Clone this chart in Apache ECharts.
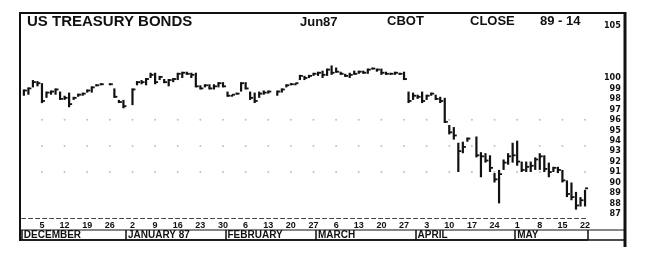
<!DOCTYPE html>
<html><head><meta charset="utf-8">
<script src="https://cdn.jsdelivr.net/npm/echarts@6/dist/echarts.min.js"></script>
<style>html,body{margin:0;padding:0;background:#fff}#c{width:645px;height:258px}</style>
</head><body><div id="c"></div>
<script>
// Trading weekdays, Dec 1 1986 - May 22 1987
const days = [
 '12/01','12/02','12/03','12/04','12/05','12/08','12/09','12/10','12/11','12/12',
 '12/15','12/16','12/17','12/18','12/19','12/22','12/23','12/24','12/25','12/26',
 '12/29','12/30','12/31','01/01','01/02','01/05','01/06','01/07','01/08','01/09',
 '01/12','01/13','01/14','01/15','01/16','01/19','01/20','01/21','01/22','01/23',
 '01/26','01/27','01/28','01/29','01/30','02/02','02/03','02/04','02/05','02/06',
 '02/09','02/10','02/11','02/12','02/13','02/16','02/17','02/18','02/19','02/20',
 '02/23','02/24','02/25','02/26','02/27','03/02','03/03','03/04','03/05','03/06',
 '03/09','03/10','03/11','03/12','03/13','03/16','03/17','03/18','03/19','03/20',
 '03/23','03/24','03/25','03/26','03/27','03/30','03/31','04/01','04/02','04/03',
 '04/06','04/07','04/08','04/09','04/10','04/13','04/14','04/15','04/16','04/17',
 '04/20','04/21','04/22','04/23','04/24','04/27','04/28','04/29','04/30','05/01',
 '05/04','05/05','05/06','05/07','05/08','05/11','05/12','05/13','05/14','05/15',
 '05/18','05/19','05/20','05/21','05/22'
];
const highs = [
 98.9,99.1,99.8,99.7,99.5, 98.7,98.8,99.0,98.7,98.3,
 98.6,98.2,98.5,98.6,98.9, 99.2,99.4,99.5,null,99.5,
 99.0,97.9,97.9,null,99.0, 99.7,99.8,100.0,100.5,100.5,
 100.2,99.9,99.9,100.0,100.5, 100.6,100.6,100.5,100.5,99.3,
 99.4,99.4,99.4,99.6,99.6, 98.7,98.4,98.6,99.6,99.6,
 98.7,98.6,98.7,98.8,98.8, null,98.8,99.0,99.4,99.5,
 99.5,100.3,100.2,100.3,100.5, 100.6,100.7,100.9,101.2,101.0,
 100.6,100.4,100.5,100.7,100.7, 100.7,100.9,101.0,100.9,100.9,
 100.6,100.5,100.6,100.5,100.6, 98.7,98.6,98.4,98.7,98.4,
 98.6,98.4,98.2,98.1,95.5, 95.3,93.8,93.9,94.3,null,
 94.4,92.9,92.8,92.6,90.9, 91.2,92.2,92.8,93.8,94.0,
 92.0,92.0,92.0,92.4,92.8, 92.6,91.9,91.5,91.5,91.2,
 90.2,90.0,89.1,88.6,89.3
];
const lows = [
 98.3,98.4,99.1,99.2,97.6, 98.1,98.4,98.4,97.9,97.9,
 97.2,97.9,98.2,98.3,98.6, 98.6,99.2,99.3,null,99.3,
 98.1,97.6,97.1,null,97.4, 99.3,99.4,99.3,100.0,99.4,
 99.8,99.5,99.2,99.6,99.8, 100.0,100.3,100.0,99.1,98.9,
 99.1,98.9,98.9,99.1,99.1, 98.2,98.3,98.4,98.7,98.9,
 97.9,97.6,98.1,98.4,98.5, null,98.3,98.6,99.1,99.3,
 99.3,99.8,99.8,100.0,100.2, 100.2,100.0,100.2,100.3,100.5,
 100.3,100.1,100.0,100.3,100.4, 100.4,100.4,100.8,100.6,100.3,
 100.3,100.3,100.3,100.3,99.8, 97.6,97.9,98.0,97.6,97.9,
 98.3,97.9,97.6,95.7,94.6, 94.1,91.0,92.8,93.9,null,
 92.4,90.5,91.9,91.0,90.0, 88.0,91.2,91.7,91.9,91.6,
 91.0,91.0,91.0,91.2,91.2, 91.0,90.5,91.0,90.9,90.0,
 88.6,88.3,87.4,87.7,87.7
];
const closes = [
 98.8,99.0,99.6,99.5,97.8, 98.6,98.7,98.9,98.0,98.1,
 97.5,98.1,98.4,98.5,98.8, 99.1,99.3,99.4,null,99.4,
 98.2,97.7,97.3,null,98.9, 99.6,99.6,99.9,100.3,99.6,
 100.1,99.6,99.8,99.9,100.4, 100.5,100.4,100.3,99.2,99.0,
 99.3,99.0,99.2,99.5,99.2, 98.3,98.4,98.5,99.5,99.0,
 98.1,97.8,98.5,98.6,98.7, null,98.7,98.9,99.3,99.4,
 99.5,100.2,100.0,100.2,100.4, 100.5,100.3,100.8,100.5,100.6,
 100.4,100.2,100.3,100.4,100.6, 100.5,100.8,100.9,100.8,100.5,
 100.4,100.4,100.5,100.4,99.9, 97.8,98.3,98.2,97.8,98.3,
 98.5,98.0,97.8,95.8,94.8, 94.5,93.0,93.4,94.2,null,
 92.6,92.5,92.1,91.4,90.3, 90.8,91.9,92.5,92.6,92.0,
 91.2,91.5,91.6,92.2,92.5, 91.3,91.0,91.4,91.2,90.2,
 88.9,88.6,87.8,88.3,89.44
];
const priceTicks = [105,100,99,98,97,96,95,94,93,92,91,90,89,88,87];
const monthNames = {'12':'DECEMBER','01':'JANUARY 87','02':'FEBRUARY','03':'MARCH','04':'APRIL','05':'MAY'};
const dotLevels = [96, 93.5, 91];

const isMonthStart = i => i === 0 || days[i].slice(0,2) !== days[i-1].slice(0,2);
const isFriday = i => i % 5 === 4;

const barData = [];
days.forEach((d, i) => { if (highs[i] != null) barData.push([i, highs[i], lows[i], closes[i]]); });
const dotData = [];
dotLevels.forEach(v => days.forEach((d, i) => { if (isFriday(i)) dotData.push([i, v]); }));

const chart = echarts.init(document.getElementById('c'), null, {renderer: 'canvas'});
const lbl = {fontFamily: 'Liberation Sans, Arial, sans-serif', fontWeight: 'bold', color: '#111'};
chart.setOption({
  animation: false,
  backgroundColor: '#fff',
  grid: {left: 21.6, right: 57.7, top: 20.5, bottom: 40},
  xAxis: [{
    type: 'category', data: days, boundaryGap: true,
    axisLine: {show: true, lineStyle: {color: '#444', width: 1, type: [4, 3]}},
    axisTick: {show: false},
    axisLabel: Object.assign({interval: (i) => isFriday(i), formatter: v => String(parseInt(v.slice(3), 10)), fontSize: 9, margin: 3}, lbl),
    splitLine: {show: false}
  }, {
    type: 'category', data: days, boundaryGap: true, position: 'bottom', offset: 22,
    axisLine: {show: true, lineStyle: {color: '#111', width: 1.5}},
    axisTick: {show: true, inside: true, length: 10, interval: (i) => isMonthStart(i), lineStyle: {color: '#111', width: 1.5}},
    axisLabel: Object.assign({show: true, inside: true, interval: (i) => isMonthStart(i), formatter: v => monthNames[v.slice(0,2)], align: 'left', fontSize: 10, margin: 0}, lbl),
    splitLine: {show: false}
  }],
  yAxis: {
    type: 'value', position: 'right', min: 86.6, max: 105.5,
    axisLine: {show: false}, axisTick: {show: false}, splitLine: {show: false},
    axisLabel: {customValues: priceTicks, align: 'right', margin: 33.5, fontSize: 9, fontWeight: 'bold', color: '#111', fontFamily: 'DejaVu Sans Condensed, DejaVu Sans, sans-serif'}
  },
  series: [{
    type: 'scatter', data: dotData, symbolSize: 2, itemStyle: {color: '#b0b0b0'}, silent: true, z: 1
  }, {
    type: 'custom', data: barData, z: 3,
    renderItem: (params, api) => {
      const i = api.value(0);
      const top = api.coord([i, api.value(1)]);
      const bot = api.coord([i, api.value(2)]);
      const cl = api.coord([i, api.value(3)]);
      const y2 = Math.max(bot[1], top[1] + 2);
      return {type: 'group', children: [
        {type: 'line', shape: {x1: top[0], y1: top[1], x2: top[0], y2: y2}, style: {stroke: '#111', lineWidth: 2.2}},
        {type: 'line', shape: {x1: cl[0], y1: cl[1], x2: cl[0] + 3, y2: cl[1]}, style: {stroke: '#111', lineWidth: 1.8}}
      ]};
    }
  }],
  graphic: [
    {type: 'line', shape: {x1: 19, y1: 13, x2: 626, y2: 13}, style: {stroke: '#111', lineWidth: 2}},
    {type: 'line', shape: {x1: 20, y1: 12, x2: 20, y2: 241}, style: {stroke: '#111', lineWidth: 2}},
    {type: 'line', shape: {x1: 625, y1: 12, x2: 625, y2: 247}, style: {stroke: '#111', lineWidth: 3}},
    {type: 'line', shape: {x1: 20, y1: 230, x2: 625, y2: 230}, style: {stroke: '#111', lineWidth: 1}},
    {type: 'line', shape: {x1: 20, y1: 240, x2: 625, y2: 240}, style: {stroke: '#111', lineWidth: 1.5}},
    {type: 'text', left: 27, top: 14, style: {text: 'US TREASURY BONDS', font: 'bold 15px Liberation Sans, Arial, sans-serif', fill: '#111'}},
    {type: 'text', left: 300, top: 16, style: {text: 'Jun87', font: 'bold 13px Liberation Sans, Arial, sans-serif', fill: '#111'}},
    {type: 'text', left: 387, top: 15, style: {text: 'CBOT', font: 'bold 13px Liberation Sans, Arial, sans-serif', fill: '#111'}},
    {type: 'text', left: 470, top: 15, style: {text: 'CLOSE', font: 'bold 13px Liberation Sans, Arial, sans-serif', fill: '#111'}},
    {type: 'text', left: 540, top: 15, style: {text: '89 - 14', font: 'bold 13px Liberation Sans, Arial, sans-serif', fill: '#111'}}
  ]
});
</script>
</body></html>
